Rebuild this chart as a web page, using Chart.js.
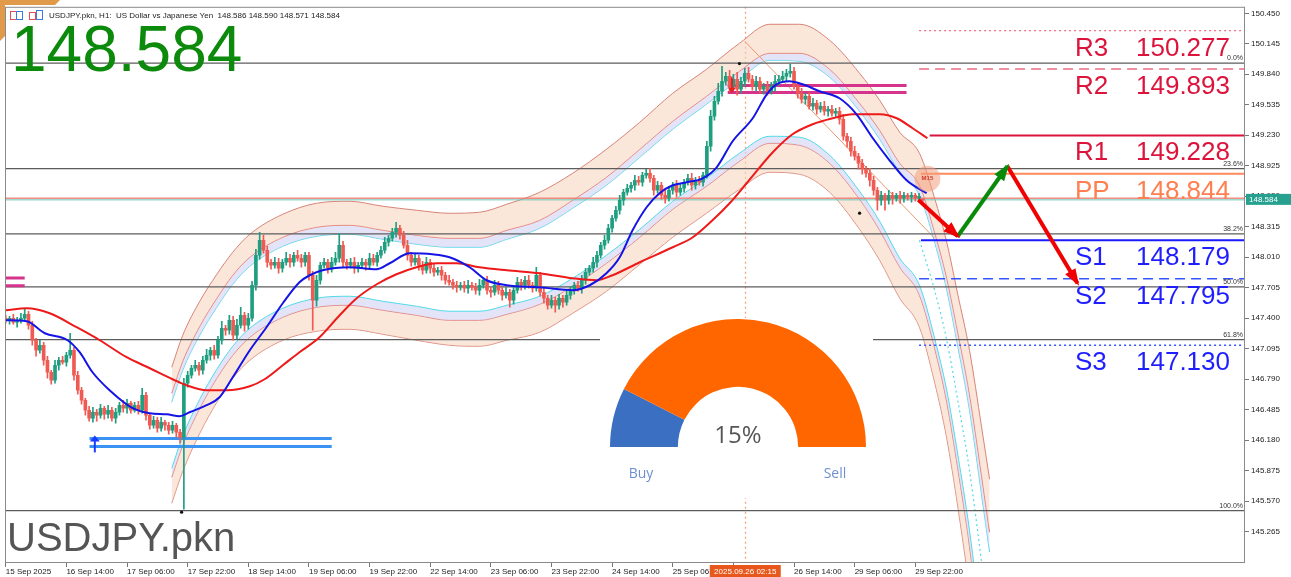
<!DOCTYPE html>
<html>
<head>
<meta charset="utf-8">
<title>USDJPY.pkn H1</title>
<script src="https://cdn.jsdelivr.net/npm/chart.js@4.4.1/dist/chart.umd.min.js"></script>
<style>
  html, body { margin:0; padding:0; background:#ffffff; }
  #wrap { position:relative; width:1291px; height:577px; overflow:hidden; }
  #main { position:absolute; left:0; top:0; }
  #gaugeBox { position:absolute; left:600px; top:318px; width:273px; height:180px; background:#ffffff; }
  #gauge { position:absolute; left:10px; top:1px; }
  .gtxt { position:absolute; transform:translate(-50%,-50%); font-family:"Open Sans","Noto Sans",sans-serif; white-space:nowrap; }
  #gPct { left:138px; top:115px; font-size:24px; color:#555; }
  #gBuy { left:41px; top:154px; font-size:14px; color:#6f8fd0; }
  #gSell { left:235px; top:154px; font-size:14px; color:#6f8fd0; }
</style>
</head>
<body>
<div id="wrap">
  <canvas id="main" width="1291" height="577"></canvas>
  <div id="gaugeBox">
    <canvas id="gauge" width="256" height="128"></canvas>
    <div class="gtxt" id="gPct"></div>
    <div class="gtxt" id="gBuy"></div>
    <div class="gtxt" id="gSell"></div>
  </div>
</div>
<script>
// ================= DATA =================
const symbol = 'USDJPY.pkn';
const lastOHLC = [148.586, 148.590, 148.571, 148.584];
const xTickIdx = [0,16,32,48,64,80,96,112,128,144,160,176,192,208,224,240];
const xTickLabels = ['15 Sep 2025','16 Sep 14:00','17 Sep 06:00','17 Sep 22:00','18 Sep 14:00','19 Sep 06:00','19 Sep 22:00','22 Sep 14:00','23 Sep 06:00','23 Sep 22:00','24 Sep 14:00','25 Sep 06:00','','26 Sep 14:00','29 Sep 06:00','29 Sep 22:00'];
const crossIdx = 195;
const crossLabel = '2025.09.26 02:15';
const yTicks = [150.450,150.145,149.840,149.535,149.230,148.925,148.620,148.315,148.010,147.705,147.400,147.095,146.790,146.485,146.180,145.875,145.570,145.265];

const firstOpen = 147.40;
const closes = [
147.38,147.40,147.36,147.38,147.40,147.44,147.33,147.18,147.08,147.13,
146.98,146.86,146.78,146.93,146.98,146.96,147.03,147.08,146.83,146.68,
146.58,146.48,146.40,146.46,146.43,146.50,146.44,146.48,146.40,146.46,
146.53,146.50,146.55,146.48,146.53,146.48,146.63,146.43,146.33,146.38,
146.30,146.36,146.33,146.28,146.33,146.26,146.21,146.75,146.83,146.90,
146.93,146.88,146.98,147.03,147.08,147.03,147.18,147.30,147.28,147.38,
147.23,147.33,147.43,147.33,147.40,147.73,148.03,148.18,148.08,147.96,
147.93,147.96,147.90,147.96,148.00,147.96,148.03,148.00,147.96,148.03,
147.83,147.58,147.78,147.93,147.96,147.90,147.96,148.00,148.13,147.96,
147.93,147.96,147.90,147.93,147.96,147.93,148.00,147.96,148.03,148.08,
148.16,148.20,148.26,148.30,148.23,148.13,148.03,147.96,148.00,147.93,
147.88,147.96,147.90,147.86,147.88,147.83,147.78,147.76,147.73,147.71,
147.73,147.70,147.73,147.71,147.68,147.73,147.78,147.68,147.66,147.73,
147.68,147.63,147.66,147.58,147.68,147.76,147.73,147.78,147.73,147.70,
147.83,147.66,147.60,147.53,147.58,147.53,147.60,147.56,147.63,147.68,
147.73,147.70,147.78,147.86,147.90,147.96,148.03,148.13,148.18,148.30,
148.40,148.48,148.58,148.66,148.70,148.73,148.78,148.76,148.83,148.85,
148.80,148.68,148.73,148.63,148.60,148.68,148.73,148.66,148.70,148.76,
148.80,148.73,148.78,148.76,148.83,149.12,149.42,149.57,149.67,149.77,
149.82,149.72,149.79,149.69,149.77,149.85,149.79,149.72,149.77,149.69,
149.72,149.67,149.72,149.77,149.79,149.82,149.85,149.87,149.72,149.65,
149.59,149.62,149.52,149.55,149.49,149.52,149.47,149.49,149.45,149.47,
149.39,149.22,149.17,149.07,149.02,148.95,148.89,148.85,148.78,148.68,
148.58,148.63,148.58,148.63,148.60,148.63,148.60,148.63,148.61,148.63,
148.60,148.62,148.584];
const wickUp = [
.03,.02,.04,.03,.05,.06,.03,.04,.02,.05,
.03,.04,.02,.05,.03,.04,.03,.17,.03,.04,
.03,.02,.04,.05,.03,.04,.02,.05,.03,.04,
.03,.05,.04,.02,.03,.04,.07,.03,.02,.04,
.03,.05,.02,.03,.04,.02,.03,.05,.04,.03,
.05,.03,.04,.06,.03,.05,.04,.07,.03,.05,
.04,.06,.08,.03,.05,.04,.06,.08,.05,.04,
.03,.05,.04,.03,.06,.04,.03,.05,.04,.03,
.03,.04,.05,.03,.04,.03,.05,.06,.12,.04,
.03,.04,.05,.03,.04,.03,.05,.04,.03,.04,
.05,.03,.04,.06,.03,.04,.05,.03,.04,.03,
.04,.05,.03,.04,.03,.04,.03,.05,.03,.04,
.03,.04,.05,.03,.04,.06,.03,.04,.03,.05,
.04,.03,.05,.03,.04,.05,.03,.04,.05,.03,
.08,.03,.04,.03,.05,.03,.04,.03,.05,.04,
.03,.04,.05,.04,.03,.05,.04,.03,.05,.04,
.03,.04,.05,.03,.04,.03,.05,.04,.03,.04,
.05,.03,.04,.03,.05,.04,.03,.05,.04,.03,
.04,.05,.03,.04,.03,.05,.06,.05,.08,.15,
.04,.06,.05,.07,.04,.05,.06,.04,.05,.04,
.03,.05,.04,.06,.04,.05,.04,.07,.04,.03,
.05,.03,.04,.05,.03,.04,.05,.03,.04,.03,
.04,.05,.03,.04,.05,.03,.04,.03,.05,.04,
.03,.04,.02,.05,.03,.02,.04,.03,.02,.03,
.02,.03,.004];
const wickDn = [
.03,.04,.02,.05,.03,.02,.04,.05,.06,.03,
.05,.06,.04,.03,.05,.02,.04,.03,.05,.04,
.04,.05,.03,.04,.06,.03,.05,.04,.03,.05,
.03,.04,.05,.03,.02,.04,.03,.05,.04,.03,
.04,.03,.05,.04,.03,.05,.06,.72,.04,.03,
.03,.05,.04,.03,.05,.04,.03,.04,.05,.04,
.05,.04,.03,.06,.04,.03,.05,.04,.03,.05,
.04,.03,.05,.04,.03,.05,.04,.03,.05,.04,
.05,.30,.06,.04,.03,.05,.04,.03,.04,.05,
.04,.03,.05,.04,.03,.05,.04,.03,.04,.03,
.03,.04,.03,.05,.04,.03,.05,.04,.03,.05,
.04,.03,.05,.04,.03,.05,.04,.03,.04,.05,
.03,.04,.05,.03,.04,.05,.03,.04,.05,.03,
.04,.05,.03,.07,.04,.03,.05,.04,.03,.04,
.03,.04,.05,.04,.03,.07,.04,.05,.03,.04,
.04,.03,.05,.04,.03,.04,.05,.03,.04,.03,
.04,.03,.04,.05,.03,.04,.05,.03,.04,.03,
.04,.05,.03,.04,.05,.03,.04,.05,.03,.04,
.03,.05,.04,.03,.04,.03,.05,.04,.03,.05,
.04,.05,.03,.06,.04,.05,.03,.04,.05,.04,
.05,.04,.03,.05,.04,.03,.05,.04,.03,.05,
.04,.05,.03,.04,.05,.03,.04,.05,.03,.04,
.05,.04,.06,.05,.04,.06,.05,.04,.06,.05,
.10,.05,.10,.04,.06,.03,.05,.04,.03,.05,
.03,.04,.013];

// moving averages (bar index, price)
const fastIdx = [0,5.5,10.3,16.3,19.5,22.9,27.4,33.5,38.0,42.5,45.9,48.5,53.0,56.4,59.9,64.4,68.8,73.1,77.5,80.2,83.6,90.7,97.8,101.3,106.6,112.6,117.1,122.4,126.9,132.2,140.9,149.6,154.1,158.5,162.0,165.4,169.1,172.5,176.0,179.7,183.9,187.6,191.8,197.1,200.8,203.4,206.8,210.3,214.7,220.0,224.5,228.8,233.2,237.7,243.0];
const fastVal = [147.38,147.37,147.25,147.18,147.06,146.86,146.68,146.50,146.45,146.44,146.42,146.46,146.53,146.61,146.81,147.08,147.31,147.55,147.76,147.83,147.88,147.91,147.89,147.95,148.05,148.04,148.01,147.91,147.78,147.73,147.71,147.68,147.73,147.85,148.01,148.28,148.51,148.65,148.73,148.76,148.80,148.91,149.17,149.40,149.64,149.74,149.77,149.74,149.67,149.60,149.44,149.20,148.98,148.78,148.65];
const slowIdx = [0,5.5,11.6,18.7,24.8,31.9,38.0,44.0,47.7,53.0,58.3,64.4,68.3,73.1,77.5,82.8,88.1,92.6,97.9,103.1,108.4,113.7,119.0,125.0,132.2,140.9,149.6,155.9,160.1,167.3,176.0,181.3,186.5,191.0,195.5,202.4,207.6,212.9,218.2,223.5,230.6,235.1,239.3,243.2];
const slowVal = [147.48,147.50,147.45,147.31,147.18,147.01,146.90,146.79,146.73,146.68,146.68,146.72,146.79,146.93,147.06,147.21,147.43,147.60,147.74,147.84,147.91,147.95,147.95,147.91,147.88,147.85,147.80,147.78,147.83,147.96,148.11,148.21,148.38,148.55,148.75,149.06,149.24,149.34,149.40,149.44,149.44,149.40,149.30,149.20];

// polynomial regression channel: centre and half-widths (price)
const chanIdx = [43.8,46.7,51.2,55.7,59.9,64.4,73.1,82.0,90.7,99.5,108.4,117.1,125.0,132.2,140.9,149.6,158.5,167.3,176.0,184.9,193.6,201.6,209.5,217.4,225.3,230.6,235.9,241.1,245.1,248.3,251.2,254.3,257.5,259.6];
const chanMid = [146.23,146.55,146.91,147.20,147.43,147.61,147.81,147.91,147.93,147.88,147.83,147.79,147.79,147.86,147.96,148.15,148.38,148.65,148.93,149.17,149.42,149.60,149.59,149.42,149.07,148.78,148.43,148.18,147.68,147.18,146.58,145.88,144.96,144.34];
const outerW = [0.68,0.68,0.66,0.64,0.63,0.63,0.63,0.64,0.64,0.64,0.65,0.66,0.67,0.68,0.70,0.70,0.71,0.71,0.72,0.72,0.73,0.74,0.75,0.76,0.78,0.80,0.83,0.87,0.92,0.98,1.06,1.20,1.35,1.45];
const midW = [0.42,0.42,0.41,0.40,0.40,0.40,0.40,0.40,0.40,0.40,0.40,0.41,0.41,0.42,0.42,0.43,0.43,0.44,0.44,0.45,0.45,0.45,0.46,0.47,0.48,0.50,0.52,0.55,0.58,0.62,0.68,0.76,0.86,0.92];
const innerW = [0.33,0.33,0.32,0.31,0.31,0.31,0.31,0.31,0.31,0.31,0.31,0.32,0.32,0.33,0.34,0.35,0.35,0.36,0.36,0.37,0.37,0.38,0.38,0.39,0.40,0.41,0.43,0.45,0.48,0.50,0.54,0.60,0.67,0.72];

// linear regression line from the top (bar index, price)
const regIdx = [195.0, 245.1];
const regVal = [150.17, 148.20];

// fibonacci levels
const fibVals = [149.952, 148.897, 148.243, 147.714, 147.186, 145.475];
const fibLabels = ['0.0%','23.6%','38.2%','50.0%','61.8%','100.0%'];

// pivot levels
const pivotNames = ['R3','R2','R1','PP','S1','S2','S3'];
const pivotVals = [150.277,149.893,149.228,148.844,148.179,147.795,147.130];
const pivotStart = [241,241,243.8,241.5,241.5,241,241];

// zones
const blueZoneIdx = [22.1, 86.0];
const blueZoneVals = [146.198, 146.118];
const pinkZoneIdx = [190.5, 237.7];
const pinkZoneVals = [149.728, 149.658];
const pinkLeftIdx = [-0.2, 5.0];
const pinkLeftVals = [147.803, 147.724];

// projection arrows (bar index, price)
const projIdx = [240.8, 251.2, 264.3, 282.8];
const projVal = [148.584, 148.22, 148.92, 147.75];

// marker dots
const dotIdx = [193.6, 225.3, 46.4];
const dotVal = [149.947, 148.451, 145.46];

// gauge
const gaugeLabels = ['Buy','Sell'];
const gaugeValues = [15, 85];

// ================= BUILD =================
const FONT = '"Liberation Sans", Arial, sans-serif';
const opens = closes.map((c,i) => i === 0 ? firstOpen : (i === closes.length-1 ? lastOHLC[0] : closes[i-1]));
const highs = closes.map((c,i) => Math.max(opens[i], c) + wickUp[i]);
const lows  = closes.map((c,i) => Math.min(opens[i], c) - wickDn[i]);
const BULL = '#1f9e80', BEAR = '#ef5a52';
const candleColor = ctx => (closes[ctx.dataIndex] >= opens[ctx.dataIndex] ? BULL : BEAR);

const XMIN = -0.2, XMAX = 327;
const pts = (xs, ys) => xs.map((x,i) => ({x, y: ys[i]}));
const hline = (v, x0, color, width, dash, order) => ({
  type:'line', data:[{x:x0, y:v},{x:XMAX, y:v}], borderColor:color, borderWidth:width,
  borderDash:dash || [], pointRadius:0, fill:false, order: order || 80
});

const datasets = [];
const chanLine = (vals, color, bg, fill, dash) => ({
  type:'line', data: pts(chanIdx, vals), borderColor:color, borderWidth:1, backgroundColor:bg,
  fill, pointRadius:0, cubicInterpolationMode:'monotone', borderDash: dash || [], order:100
});
datasets.push(chanLine(chanMid.map((m,i)=>m+outerW[i]), '#d88478', 'rgba(245,212,188,0.55)', '+1'));
datasets.push(chanLine(chanMid.map((m,i)=>m+midW[i]),   '#e4766f', 'rgba(214,214,244,0.65)', '+1'));
datasets.push(chanLine(chanMid.map((m,i)=>m+innerW[i]), '#4fdbe8', 'rgba(0,0,0,0)', false));
datasets.push(chanLine(chanMid.map((m,i)=>m-innerW[i]), '#4fdbe8', 'rgba(214,214,244,0.65)', '+1'));
datasets.push(chanLine(chanMid.map((m,i)=>m-midW[i]),   '#e4766f', 'rgba(245,212,188,0.55)', '+1'));
datasets.push(chanLine(chanMid.map((m,i)=>m-outerW[i]), '#d88478', 'rgba(0,0,0,0)', false));
// centre line (dotted) in the projected part
const cStart = chanIdx.findIndex(v => v >= 241);
datasets.push({type:'line', data: pts(chanIdx.slice(cStart), chanMid.slice(cStart)), borderColor:'#4fdbe8', borderWidth:1.2, borderDash:[2,3], pointRadius:0, fill:false, cubicInterpolationMode:'monotone', order:99});

// regression line
datasets.push({type:'line', data: pts(regIdx, regVal), borderColor:'#e89a6e', borderWidth:1, pointRadius:0, fill:false, order:95});

// fib lines
fibVals.forEach(v => datasets.push(hline(v, XMIN, '#5c5c5c', 1.3, null, 90)));

// current price lines
datasets.push(hline(lastOHLC[3] + 0.016, XMIN, 'rgba(240,120,110,0.85)', 1.5, null, 85));
datasets.push(hline(lastOHLC[3], XMIN, '#6cc8b8', 1, null, 85));

// pivot lines
const pivotColors = ['#f0708a','#ec6a84','#dc143c','#ff8a5c','#1a1aff','#3355ff','#3355ff'];
const pivotDash = [[2,3],[10,6],null,null,null,[10,6],[2,3]];
const pivotWidth = [1.2,1.3,2,2,2,1.4,1.5];
pivotVals.forEach((v,i) => datasets.push(hline(v, pivotStart[i], pivotColors[i], pivotWidth[i], pivotDash[i], 80)));

// zones
blueZoneVals.forEach(v => datasets.push({type:'line', data: pts(blueZoneIdx, [v,v]), borderColor:'#3a92f2', borderWidth:3, pointRadius:0, fill:false, order:60}));
pinkZoneVals.forEach(v => datasets.push({type:'line', data: pts(pinkZoneIdx, [v,v]), borderColor:'#d6348c', borderWidth:3, pointRadius:0, fill:false, order:60}));
pinkLeftVals.forEach(v => datasets.push({type:'line', data: pts(pinkLeftIdx, [v,v]), borderColor:'#d6348c', borderWidth:3, pointRadius:0, fill:false, order:60}));

// candles
datasets.push({type:'bar', data: closes.map((c,i)=>({x:i, y:[lows[i], highs[i]]})), backgroundColor:candleColor, barThickness:1, grouped:false, borderWidth:0, order:50});
datasets.push({type:'bar', data: closes.map((c,i)=>({x:i, y:[opens[i], c]})), backgroundColor:candleColor, barThickness:3, grouped:false, minBarLength:1, borderWidth:0, order:49});

// moving averages
datasets.push({type:'line', data: pts(slowIdx, slowVal), borderColor:'#ee1a1a', borderWidth:2, pointRadius:0, fill:false, cubicInterpolationMode:'monotone', order:12});
datasets.push({type:'line', data: pts(fastIdx, fastVal), borderColor:'#1414e6', borderWidth:2, pointRadius:0, fill:false, cubicInterpolationMode:'monotone', order:11});

// projection arrows
const ARROW_COLORS = ['#f00000','#0a8a0a','#f00000'];
for (let k = 0; k < projIdx.length - 1; k++) {
  datasets.push({type:'line', data: pts(projIdx.slice(k,k+2), projVal.slice(k,k+2)), borderColor:ARROW_COLORS[k], borderWidth:4, pointRadius:0, fill:false, order:5});
}
// dots
datasets.push({type:'line', data: pts(dotIdx, dotVal), showLine:false, pointRadius:1.6, pointBackgroundColor:'#111', pointBorderWidth:0, order:4});

// ================= PLUGIN =================
function arrowHead(ctx, x0, y0, x1, y1, color, len, w) {
  const a = Math.atan2(y1-y0, x1-x0);
  ctx.fillStyle = color;
  ctx.beginPath();
  ctx.moveTo(x1 + 3*Math.cos(a), y1 + 3*Math.sin(a));
  ctx.lineTo(x1 - len*Math.cos(a) + w*Math.sin(a), y1 - len*Math.sin(a) - w*Math.cos(a));
  ctx.lineTo(x1 - len*Math.cos(a) - w*Math.sin(a), y1 - len*Math.sin(a) + w*Math.cos(a));
  ctx.closePath(); ctx.fill();
}
const overlay = {
  id: 'overlay',
  beforeDraw(c) {
    const ctx = c.ctx;
    ctx.save();
    ctx.fillStyle = '#ffffff';
    ctx.fillRect(0, 0, c.width, c.height);
    ctx.fillStyle = '#e19a4a';
    ctx.beginPath();
    ctx.moveTo(0,0); ctx.lineTo(60,0); ctx.lineTo(55,5); ctx.lineTo(5,5); ctx.lineTo(5,36); ctx.lineTo(0,41); ctx.closePath();
    ctx.fill();
    ctx.restore();
  },
  beforeDatasetsDraw(c) {
    const {ctx, chartArea:a, scales:{x:X}} = c;
    ctx.save();
    const cx = Math.round(X.getPixelForValue(crossIdx)) + 0.5;
    ctx.strokeStyle = '#f3a27a'; ctx.lineWidth = 1.3; ctx.setLineDash([2,3]);
    ctx.beginPath(); ctx.moveTo(cx, a.top); ctx.lineTo(cx, a.bottom); ctx.stroke();
    ctx.restore();
  },
  afterDraw(c) {
    const {ctx, chartArea:a, scales:{x:X, y:Y}} = c;
    ctx.save();
    // frame
    ctx.strokeStyle = '#8a8a8a'; ctx.lineWidth = 1; ctx.setLineDash([]);
    ctx.strokeRect(a.left + 0.5, a.top + 0.5, a.right - a.left - 1, a.bottom - a.top - 1);

    // M15 bubble
    const mx = X.getPixelForValue(243.2), my = Y.getPixelForValue(148.795);
    ctx.fillStyle = 'rgba(242,158,128,0.55)';
    ctx.beginPath(); ctx.arc(mx, my, 13, 0, Math.PI*2); ctx.fill();
    ctx.fillStyle = '#d03a2a'; ctx.font = 'bold 6px ' + FONT; ctx.textAlign = 'center'; ctx.textBaseline = 'middle';
    ctx.fillText('M15', mx, my);

    // arrow heads
    for (let k = 0; k < projIdx.length - 1; k++) {
      arrowHead(ctx, X.getPixelForValue(projIdx[k]), Y.getPixelForValue(projVal[k]),
                X.getPixelForValue(projIdx[k+1]), Y.getPixelForValue(projVal[k+1]), ARROW_COLORS[k], 14, 6);
    }

    // small blue up arrow
    const bx = X.getPixelForValue(23.5), by = Y.getPixelForValue(blueZoneVals[1]);
    ctx.strokeStyle = '#1a3cff'; ctx.lineWidth = 2;
    ctx.beginPath(); ctx.moveTo(bx, by + 6); ctx.lineTo(bx, by - 8); ctx.stroke();
    ctx.fillStyle = '#1a3cff';
    ctx.beginPath(); ctx.moveTo(bx, by - 11); ctx.lineTo(bx - 5, by - 5); ctx.lineTo(bx + 5, by - 5); ctx.closePath(); ctx.fill();
    // small red down arrow
    const rx = X.getPixelForValue(191.6), ry = Y.getPixelForValue(pinkZoneVals[0]);
    ctx.strokeStyle = '#e82020'; ctx.lineWidth = 2;
    ctx.beginPath(); ctx.moveTo(rx, ry - 8); ctx.lineTo(rx, ry + 4); ctx.stroke();
    ctx.fillStyle = '#e82020';
    ctx.beginPath(); ctx.moveTo(rx, ry + 8); ctx.lineTo(rx - 4, ry + 2); ctx.lineTo(rx + 4, ry + 2); ctx.closePath(); ctx.fill();

    // fib labels
    ctx.font = '7px ' + FONT; ctx.fillStyle = '#333'; ctx.textAlign = 'right'; ctx.textBaseline = 'alphabetic';
    fibVals.forEach((v,i) => ctx.fillText(fibLabels[i], a.right - 2, Y.getPixelForValue(v) - 3));

    // pivot labels
    ctx.font = '26px ' + FONT; ctx.textAlign = 'left';
    pivotVals.forEach((v,i) => {
      const y = Y.getPixelForValue(v);
      ctx.fillStyle = pivotNames[i][0] === 'R' ? '#dc143c' : (pivotNames[i] === 'PP' ? '#ff7f50' : '#1e1eff');
      ctx.fillText(pivotNames[i], 1075, y + 25);
      ctx.fillText(v.toFixed(3), 1136, y + 25);
    });

    // current price tag on the axis
    const py = Y.getPixelForValue(lastOHLC[3]);
    ctx.fillStyle = '#26a190'; ctx.fillRect(a.right + 1, py - 6, 46, 11);
    ctx.fillStyle = '#ffffff'; ctx.font = '8px ' + FONT; ctx.textBaseline = 'middle'; ctx.textAlign = 'left';
    ctx.fillText(lastOHLC[3].toFixed(3), a.right + 4, py);

    // crosshair time tag (centred on the crosshair line)
    const cx = X.getPixelForValue(crossIdx);
    ctx.fillStyle = '#e8581c'; ctx.fillRect(cx - 35, a.bottom + 2, 71, 12);
    ctx.fillStyle = '#ffffff'; ctx.font = '8px ' + FONT; ctx.textAlign = 'center';
    ctx.fillText(crossLabel, cx + 0.5, a.bottom + 8.5);
    ctx.textAlign = 'left';

    // header icons
    ctx.lineWidth = 1;
    ctx.strokeStyle = '#e05050'; ctx.strokeRect(10.5, 11.5, 6, 8);
    ctx.strokeStyle = '#3a7be0'; ctx.strokeRect(16.5, 11.5, 6, 8);
    ctx.strokeStyle = '#e05050'; ctx.strokeRect(29.5, 12.5, 6, 7);
    ctx.strokeStyle = '#3a7be0'; ctx.strokeRect(36.5, 10.5, 6, 9);
    // header text
    ctx.fillStyle = '#222'; ctx.font = '8px ' + FONT; ctx.textBaseline = 'alphabetic';
    ctx.fillText(symbol + ', H1:  US Dollar vs Japanese Yen  ' + lastOHLC.map(v => v.toFixed(3)).join(' '), 49, 18);
    // big price
    ctx.fillStyle = '#0c8a0c'; ctx.font = '64px ' + FONT;
    ctx.fillText(lastOHLC[3].toFixed(3), 11, 71);
    // symbol
    ctx.fillStyle = '#555555'; ctx.font = '40px ' + FONT;
    ctx.fillText(symbol, 7, 551);
    ctx.restore();
  }
};

new Chart(document.getElementById('main'), {
  type: 'bar',
  data: { datasets },
  plugins: [overlay],
  options: {
    responsive: false, animation: false, devicePixelRatio: 1,
    layout: { padding: { left: 5, top: 5, right: 0, bottom: 0 } },
    plugins: { legend: { display: false }, tooltip: { enabled: false } },
    events: [],
    scales: {
      x: {
        type: 'linear', min: XMIN, max: XMAX, offset: false,
        grid: { drawOnChartArea: false, drawTicks: true, tickLength: 4, color: '#777', offset: false },
        border: { display: false },
        ticks: { font: { size: 8, family: FONT }, color: '#222', padding: 0, maxRotation: 0, autoSkip: false, align: 'start',
                 callback: v => { const k = xTickIdx.indexOf(v); return k >= 0 ? xTickLabels[k] : ''; } },
        afterBuildTicks: s => { s.ticks = xTickIdx.map(v => ({ value: v })); },
        afterFit: s => { s.height = 14; }
      },
      y: {
        type: 'linear', position: 'right', min: 144.952, max: 150.515,
        grid: { drawOnChartArea: false, drawTicks: true, tickLength: 4, color: '#777' },
        border: { display: false },
        ticks: { font: { size: 8, family: FONT }, color: '#222', padding: 2, autoSkip: false,
                 callback: v => Number(v).toFixed(3) },
        afterBuildTicks: s => { s.ticks = yTicks.map(v => ({ value: v })); },
        afterFit: s => { s.width = 46; }
      }
    }
  }
});

// gauge
document.getElementById('gPct').textContent = gaugeValues[0] + '%';
document.getElementById('gBuy').textContent = gaugeLabels[0];
document.getElementById('gSell').textContent = gaugeLabels[1];
new Chart(document.getElementById('gauge'), {
  type: 'doughnut',
  data: { labels: gaugeLabels, datasets: [{ data: gaugeValues, backgroundColor: ['#3a6fc2', '#ff6600'], borderWidth: 0 }] },
  options: {
    responsive: false, animation: false, devicePixelRatio: 1,
    rotation: -90, circumference: 180, cutout: '47%',
    layout: { padding: 0 }, events: [],
    plugins: { legend: { display: false }, tooltip: { enabled: false } }
  }
});
</script>
</body>
</html>
